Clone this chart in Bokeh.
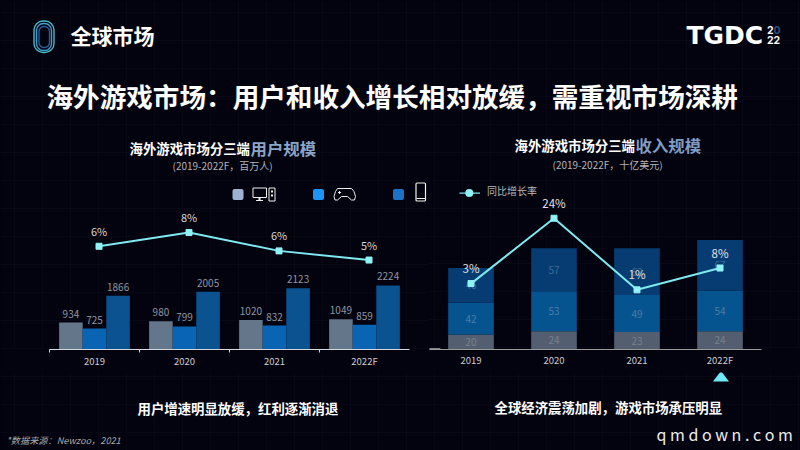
from bokeh.core.properties import value
from bokeh.embed import file_html
from bokeh.layouts import column, row
from bokeh.models import (ColumnDataSource, FixedTicker, GlobalInlineStyleSheet, Grid,
                          LinearAxis, Range1d)
from bokeh.plotting import figure
from bokeh.resources import INLINE
import numpy as np

years = ["2019", "2020", "2021", "2022F"]
users_pc = [934, 980, 1020, 1049]
users_console = [725, 799, 832, 859]
users_mobile = [1866, 2005, 2123, 2224]
users_rate = [6.5, 8, 6, 5]
users_rate_labels = ["6%", "8%", "6%", "5%"]
rev_pc = [20, 24, 23, 24]
rev_console = [42, 53, 49, 54]
rev_mobile = [46, 57, 62, 67]
rev_rate = [3, 24, 1, 8]
rev_rate_labels = ["3%", "24%", "1%", "8%"]

BG = "#03030f"
GRID = "#070716"
FONT = value("Noto Sans CJK SC")
CYAN = "#7fe9ef"
MARK = "#8ff2f5"


def base(w, h, x0, x1, y0, y1, **kw):
    p = figure(width=w, height=h, x_range=Range1d(x0, x1), y_range=Range1d(y0, y1),
               output_backend="svg", toolbar_location=None, x_axis_location=None,
               y_axis_location=None, background_fill_color=BG, border_fill_color=BG,
               outline_line_color=None, min_border_left=0, min_border_right=0,
               min_border_top=0, min_border_bottom=kw.pop("bottom", 0), **kw)
    p.grid.visible = False
    p.add_layout(Grid(dimension=0, ticker=FixedTicker(ticks=list(range(14, 800, 28))),
                      grid_line_color=GRID, grid_line_width=1))
    p.add_layout(Grid(dimension=1, ticker=FixedTicker(ticks=list(range(12, 450, 28))),
                      grid_line_color=GRID, grid_line_width=1))
    return p


def txt(p, x, y, s, size, color="#ffffff", bold=False, align="left", italic=False, font=FONT):
    style = "bold" if bold else ("italic" if italic else "normal")
    p.text(x=[x], y=[y - 1.5], text=[s], text_font=font, text_font_size=f"{size}px",
           text_color=color, text_font_style=style, text_align=align, text_baseline="middle")


# ---------- header ----------
head = base(800, 176, 0, 800, 176, 0)
for l, r, t, b, c, rad in [(33.5, 53.5, 20.5, 52, "#45bcc9", 9), (36, 51, 23, 50, "#3f9fd0", 7), (38.5, 49, 26, 47, "#2a5f96", 5)]:
    head.quad(left=[l], right=[r], top=[t], bottom=[b], fill_color=None, line_color=c, line_width=1.4,
              border_radius=rad)
txt(head, 70, 36, "全球市场", 21, bold=True)
txt(head, 46, 96, "海外游戏市场：用户和收入增长相对放缓，需重视市场深耕", 26.6, bold=True)
txt(head, 686, 36, "TGDC", 25, bold=True, font=value("DejaVu Sans"))
txt(head, 766.5, 31, "2", 10.5, bold=True, font=value("Inter"))
txt(head, 773, 31, "0", 10.5, color="#2d4f7c", bold=True, font=value("Inter"))
txt(head, 766.5, 41, "22", 10.5, bold=True, font=value("Inter"))
txt(head, 129, 149, "海外游戏市场分三端", 13.4, bold=True)
txt(head, 250, 148.5, "用户规模", 16.4, color="#8ba5c9", bold=True)
txt(head, 172, 166.5, "(2019-2022F，百万人)", 10, color="#b4b4b4")
txt(head, 514, 146, "海外游戏市场分三端", 13.4, bold=True)
txt(head, 635, 145.5, "收入规模", 16.4, color="#7e9cc4", bold=True)
txt(head, 552, 165.5, "(2019-2022F，十亿美元)", 10, color="#b4b4b4")


# ---------- left chart ----------
def chart(w, x0, x1, base_y, bottom, standoff, cx, step, px_val, rate_zero, px_rate, axis_color):
    p = base(w, 196, x0, x1, base_y, 176, bottom=bottom)
    p.extra_x_ranges["year"] = Range1d((x0 - cx) / step, (x1 - cx) / step)
    p.extra_y_ranges["val"] = Range1d(0, (base_y - 176) / px_val)
    p.extra_y_ranges["rate"] = Range1d((rate_zero - base_y) / px_rate, (rate_zero - 176) / px_rate)
    ax = LinearAxis(x_range_name="year", bounds=(-0.5, 3.5),
                    ticker=FixedTicker(ticks=list(range(len(years))), minor_ticks=[-0.5, 0.5, 1.5, 2.5]),
                    major_label_overrides={i: y for i, y in enumerate(years)},
                    major_tick_line_color=None, major_tick_in=0, major_tick_out=0,
                    minor_tick_in=0, minor_tick_out=0, axis_line_color=axis_color, axis_line_width=1.2,
                    major_label_text_color="#cfcfcf", major_label_text_font_size="9.5px",
                    major_label_text_font="Noto Sans CJK SC", major_label_standoff=standoff)
    p.add_layout(ax, "below")
    return p, ax


left, lax = chart(428, 0, 428, 349, 23, 1, 94, 90, 0.0288, 305.4, 9.17, "#d4d8dc")
lax.minor_tick_out = 3
lax.minor_tick_line_color = "#d4d8dc"
idx = np.arange(len(years))
for off, vals, col in [(-0.262, users_pc, "#64768a"), (0, users_console, "#0a64b4"), (0.262, users_mobile, "#0a5290")]:
    xs = idx + off
    left.vbar(x=xs, top=vals, width=0.262, fill_color=col, line_color=None,
              x_range_name="year", y_range_name="val")
    left.text(x=xs, y=vals, text=[str(v) for v in vals], text_font=FONT, text_font_size="10px",
              text_color="#8f97a2", text_align="center", text_baseline="bottom", y_offset=-5,
              x_range_name="year", y_range_name="val")
lx = idx + 0.05
left.line(x=lx, y=users_rate, line_color=CYAN, line_width=2, x_range_name="year", y_range_name="rate")
left.scatter(x=lx, y=users_rate, marker="square", size=6, fill_color=MARK, line_color=MARK,
             x_range_name="year", y_range_name="rate")
left.text(x=lx, y=users_rate, text=users_rate_labels, text_font=FONT, text_font_size="11px",
          text_color="#d6d6d6", text_align="center", text_baseline="middle", y_offset=-15.5,
          x_range_name="year", y_range_name="rate")

# legend (drawn in page pixels of the left and right chart)
for l, c in [(232, "#9db3cf"), (312.5, "#1a94f5"), (392.5, "#1a73c6")]:
    left.quad(left=[l], right=[l + 11], top=[188.5], bottom=[199.5], fill_color=c, line_color=None, border_radius=2)
ICON = "#f0f0f0"
left.quad(left=[252.5], right=[266], top=[187.5], bottom=[197], fill_color=None, line_color=ICON, line_width=1)
left.segment(x0=[259], y0=[197], x1=[259], y1=[200], line_color=ICON, line_width=2)
left.segment(x0=[255.5], y0=[200], x1=[262.5], y1=[200], line_color=ICON, line_width=1)
left.quad(left=[268.5], right=[274.5], top=[187.5], bottom=[200.5], fill_color=None, line_color=ICON, line_width=1)
left.scatter(x=[271.5, 271.5], y=[191, 195], marker="square", size=2, fill_color=ICON, line_color=None)
left.line(x=[337, 351, 353.5, 355, 354, 351, 347, 341, 337, 334.5, 333.5, 335, 337],
          y=[188, 188, 191, 196, 199.5, 199.5, 196, 196, 199.5, 199.5, 196, 191, 188],
          line_color=ICON, line_width=1)
left.segment(x0=[337.5, 339], y0=[192, 190.5], x1=[340.5, 339], y1=[192, 193.5], line_color=ICON, line_width=1)
left.quad(left=[415.5], right=[425], top=[182.5], bottom=[200.5], fill_color=None, line_color=ICON, line_width=1.2,
          border_radius=1)
left.segment(x0=[416], y0=[198], x1=[425], y1=[198], line_color=ICON, line_width=1)

# ---------- right chart ----------
right, rax = chart(372, 428, 800, 350, 22, 3, 470.5, 83, 0.76, 293.1, 3.13, "#9a9a9a")
rax.minor_tick_line_color = None
src = ColumnDataSource(dict(x=idx, pc=rev_pc, console=rev_console, mobile=rev_mobile))
right.vbar_stack(["pc", "console", "mobile"], x="x", width=0.55, source=src,
                 color=["#535f70", "#05548f", "#063c72"], line_color=None,
                 x_range_name="year", y_range_name="val")
stack = np.array([rev_pc, rev_console, rev_mobile], dtype=float)
mid = stack.cumsum(axis=0) - stack / 2
for i, c in enumerate(["#76808e", "#4d7ba6", "#3f6c98"]):
    right.text(x=idx, y=mid[i], text=[str(int(v)) for v in stack[i]], text_font=FONT, text_font_size="10px",
               text_color=c, text_align="center", text_baseline="middle",
               x_range_name="year", y_range_name="val")
right.line(x=idx, y=rev_rate, line_color=CYAN, line_width=2, x_range_name="year", y_range_name="rate")
right.scatter(x=idx, y=rev_rate, marker="square", size=6, fill_color=MARK, line_color=MARK,
              x_range_name="year", y_range_name="rate")
right.text(x=idx, y=rev_rate, text=rev_rate_labels, text_font=FONT, text_font_size="11.5px",
           text_color="#e0e0e0", text_align="center", text_baseline="middle", y_offset=-15.5,
           x_range_name="year", y_range_name="rate")
right.segment(x0=[-0.5], y0=[0], x1=[-0.37], y1=[0], line_color="#ffffff", line_width=2,
              x_range_name="year", y_range_name="val")
right.line(x=[459, 479.5], y=[192.7, 192.7], line_color=CYAN, line_width=1.2)
right.scatter(x=[468.8], y=[192.7], marker="circle", size=8, fill_color=MARK, line_color=None)
txt(right, 486.5, 192, "同比增长率", 10, color="#b8b8b8")

# ---------- footer ----------
foot = base(800, 78, 0, 800, 450, 372)
foot.patch(x=[712.5, 720.5, 728.5], y=[381, 370.5, 381], fill_color="#6fe9f5", line_color=None)
txt(foot, 137, 409, "用户增速明显放缓，红利逐渐消退", 13.4, bold=True)
txt(foot, 494, 408, "全球经济震荡加剧，游戏市场承压明显", 13.4, bold=True)
txt(foot, 6, 441, "*数据来源：Newzoo，2021", 9.2, color="#a8a8a8", italic=True)
txt(foot, 656, 435, "q m d o w n . c o m", 16, color="#ececec")

page = column(head, row(left, right, spacing=0), foot, spacing=0)
page.stylesheets = [GlobalInlineStyleSheet(css=f"html,body{{background:{BG};overflow:hidden}}")]
open("out.html", "w").write(file_html(page, INLINE))
